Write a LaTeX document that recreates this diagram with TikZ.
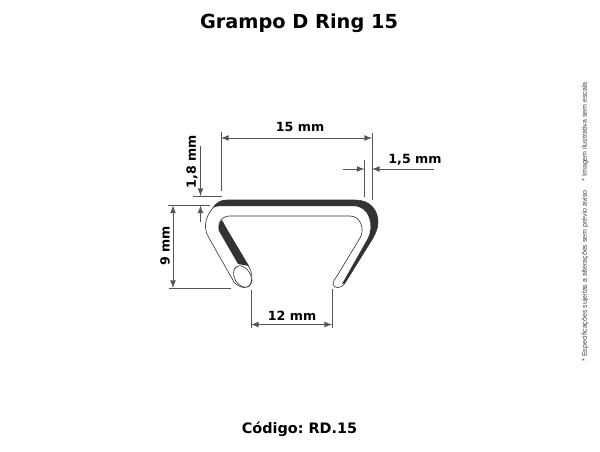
\documentclass[tikz,border=0pt]{standalone}
\usepackage{fontspec}
\setmainfont{DejaVu Sans}
\newfontfamily\notefont{Liberation Sans}
\definecolor{dimgrey}{HTML}{555555}
\definecolor{bandgrey}{HTML}{333333}
\tikzset{
    dimline/.style={draw=dimgrey, line width=0.5pt},
    dimlabel/.style={font=\bfseries\fontsize{7.2}{8}\selectfont, text=black, inner sep=0pt},
    staple/.style={draw=bandgrey, line width=0.35pt, fill=white}
}
\frenchspacing
\begin{document}
\begin{tikzpicture}[x=0.02cm, y=-0.02cm]
    \useasboundingbox (0,0) rectangle (600,451);
    \node[font=\bfseries\fontsize{11}{13}\selectfont, inner sep=0pt] (title) at (299,23) {Grampo D Ring 15};
    \node[font=\bfseries\fontsize{8.2}{10}\selectfont, inner sep=0pt] (code) at (299.5,429) {Código: RD.15};
    \node[font=\notefont\fontsize{3.98}{5}\selectfont, rotate=90, inner sep=0pt, text=black!75] (note) at (585,222) {* Especificações sujeitas a alterações sem prévio aviso \quad * Imagem ilustrativa sem escala};
    % staple outline
    \draw[staple] (234,282) -- (209,238) .. controls (203,228) and (205,218) .. (212,209) .. controls (216,203) and (220,200) .. (227,200) -- (355,200) .. controls (370,200) and (378,210) .. (378,222) .. controls (378,228) and (376,232) .. (373,238) -- (345,283) .. controls (341,289) and (334,289) .. (333,284) .. controls (333,281) and (335,279) .. (337,276) -- (360,238) .. controls (365,230) and (361,216) .. (350,216) -- (230,216) .. controls (222,216) and (218,222) .. (219,227) -- (249,267) .. controls (252,272) and (253,279) .. (251,284) .. controls (249,289) and (240,289) .. (234,282) -- cycle;
    % dark bands
    \fill[bandgrey] (213,208) .. controls (216,203) and (220,200) .. (227,200) -- (355,200) .. controls (370,200) and (378,210) .. (378,222) .. controls (378,228) and (376,232) .. (373,238) -- (345,283) -- (342,284) -- (368,238) .. controls (374,226) and (370,206) .. (353,206) -- (227,206) .. controls (220,206) and (216,206) .. (213,208) -- cycle;
    \fill[bandgrey] (222,220) .. controls (218,224) and (218,228) .. (219,231) -- (238,264) -- (249,266) -- (227,229) -- cycle;
    % cut end of the left leg
    \draw[staple, rotate around={30:(242.5,276.5)}] (242.5,276.5) ellipse (8 and 11.5);
    % dimension 15 mm
    \coordinate (a1) at (221,132);
    \coordinate (a2) at (221,191);
    \coordinate (a3) at (372,133);
    \coordinate (a4) at (372,200);
    \coordinate (a5) at (221,138);
    \coordinate (a6) at (372,138);
    \draw[dimline] (a1) -- (a2);
    \draw[dimline] (a3) -- (a4);
    \draw[dimline, latex-latex] (a5) -- (a6);
    \node[dimlabel] (label15) at (300,127) {15 mm};
    % dimension 1,5 mm
    \coordinate (b1) at (364.5,160);
    \coordinate (b2) at (364.5,197);
    \coordinate (b3) at (343,169);
    \coordinate (b4) at (364.5,169);
    \coordinate (b5) at (434,169);
    \coordinate (b6) at (372,169);
    \draw[dimline] (b1) -- (b2);
    \draw[dimline, -latex] (b3) -- (b4);
    \draw[dimline, -latex] (b5) -- (b6);
    \node[dimlabel] (label1p5) at (415,160) {1,5 mm};
    % dimension 1,8 mm
    \coordinate (c1) at (193,196);
    \coordinate (c2) at (222,196);
    \coordinate (c3) at (168,205.5);
    \coordinate (c4) at (210,205.5);
    \coordinate (c5) at (200.5,146);
    \coordinate (c6) at (200.5,196);
    \coordinate (c7) at (200.5,222);
    \coordinate (c8) at (200.5,205.5);
    \draw[dimline] (c1) -- (c2);
    \draw[dimline] (c3) -- (c4);
    \draw[dimline, -latex] (c5) -- (c6);
    \draw[dimline, -latex] (c7) -- (c8);
    \node[dimlabel, rotate=90] (label1p8) at (192,162) {1,8 mm};
    % dimension 9 mm
    \coordinate (d1) at (173,205.5);
    \coordinate (d2) at (173,288);
    \coordinate (d3) at (169,288);
    \coordinate (d4) at (231,288);
    \draw[dimline, latex-latex] (d1) -- (d2);
    \draw[dimline] (d3) -- (d4);
    \node[dimlabel, rotate=90] (label9) at (165,246) {9 mm};
    % dimension 12 mm
    \coordinate (e1) at (251,290);
    \coordinate (e2) at (251,328);
    \coordinate (e3) at (332,289);
    \coordinate (e4) at (332,328);
    \coordinate (e5) at (251,324.5);
    \coordinate (e6) at (332,324.5);
    \draw[dimline] (e1) -- (e2);
    \draw[dimline] (e3) -- (e4);
    \draw[dimline, latex-latex] (e5) -- (e6);
    \node[dimlabel] (label12) at (292,316) {12 mm};
\end{tikzpicture}
\end{document}
